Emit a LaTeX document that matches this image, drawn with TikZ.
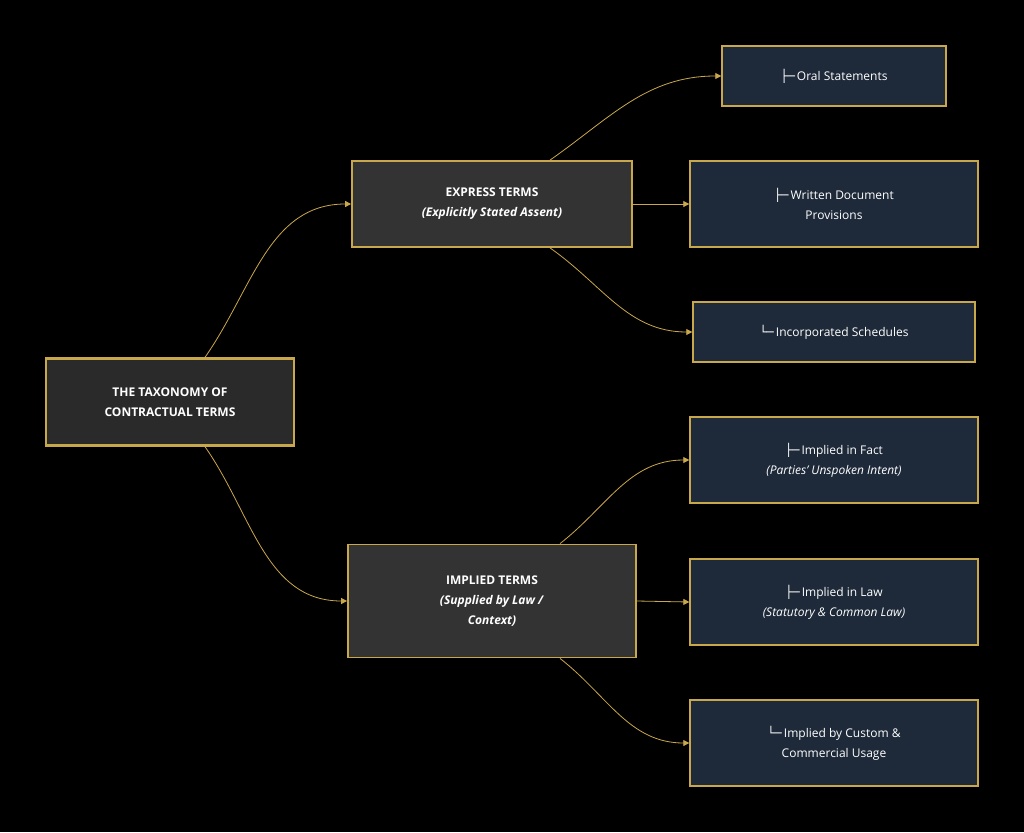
\documentclass[tikz,border=0pt]{standalone}
\usepackage{fontspec}
\setmainfont{Open Sans}
\newfontfamily\dvfont{DejaVu Sans}
\usetikzlibrary{arrows.meta}
\definecolor{cgold}{RGB}{201,168,76}
\definecolor{croot}{RGB}{42,42,42}
\definecolor{cmid}{RGB}{51,51,51}
\definecolor{cleaf}{RGB}{30,42,58}
\newcommand{\tbr}{{\dvfont ├─}\,}
\newcommand{\tend}{{\dvfont └─}\,}
\tikzset{
  box/.style={draw=cgold, text=white, align=center, inner sep=0pt, font=\fontsize{12}{20}\selectfont},
  rootbox/.style={box, fill=croot, line width=2.4pt, font=\bfseries\fontsize{12}{20}\selectfont},
  midbox/.style={box, fill=cmid, line width=1.8pt, font=\bfseries\fontsize{12}{20}\selectfont},
  leafbox/.style={box, fill=cleaf, line width=1.4pt},
  link/.style={draw=cgold, line width=0.8pt, -{Triangle[length=6pt,width=6pt]}},
}
\begin{document}
\begin{tikzpicture}[x=1pt, y=-1pt]
\fill[black] (0,0) rectangle (1024,832);
\useasboundingbox (0,0) rectangle (1024,832);
% main branches
\node[rootbox, minimum width=248pt, minimum height=87pt] (root) at (170,402) {THE TAXONOMY OF\\CONTRACTUAL TERMS};
\node[midbox, minimum width=280pt, minimum height=86pt] (express) at (492,204) {EXPRESS TERMS\\\textit{(Explicitly Stated Assent)}};
\node[midbox, minimum width=288pt, minimum height=113pt] (implied) at (492,601) {IMPLIED TERMS\\\textit{(Supplied by Law /}\\\textit{Context)}};
% leaves
\node[leafbox, minimum width=224pt, minimum height=60pt] (oral) at (834,76) {\tbr Oral Statements};
\node[leafbox, minimum width=288pt, minimum height=86pt] (written) at (834,204) {\tbr Written Document\\Provisions};
\node[leafbox, minimum width=282pt, minimum height=60pt] (incorp) at (834,332) {\tend Incorporated Schedules};
\node[leafbox, minimum width=288pt, minimum height=86pt] (fact) at (834,460) {\tbr Implied in Fact\\\textit{(Parties' Unspoken Intent)}};
\node[leafbox, minimum width=288pt, minimum height=86pt] (law) at (834,602) {\tbr Implied in Law\\\textit{(Statutory \& Common Law)}};
\node[leafbox, minimum width=288pt, minimum height=86pt] (custom) at (834,743) {\tend Implied by Custom \&\\Commercial Usage};
% connectors
\draw[link] ([xshift=35pt]root.north) to[out=55,in=180] (express.west);
\draw[link] ([xshift=35pt]root.south) to[out=-55,in=180] (implied.west);
\draw[link] ([xshift=58pt]express.north) to[out=35,in=180] (oral.west);
\draw[link] (express.east) -- (written.west);
\draw[link] ([xshift=58pt]express.south) to[out=-35,in=180] (incorp.west);
\draw[link] ([xshift=68pt]implied.north) to[out=38,in=180] (fact.west);
\draw[link] (implied.east) -- (law.west);
\draw[link] ([xshift=68pt]implied.south) to[out=-38,in=180] (custom.west);
\end{tikzpicture}
\end{document}
